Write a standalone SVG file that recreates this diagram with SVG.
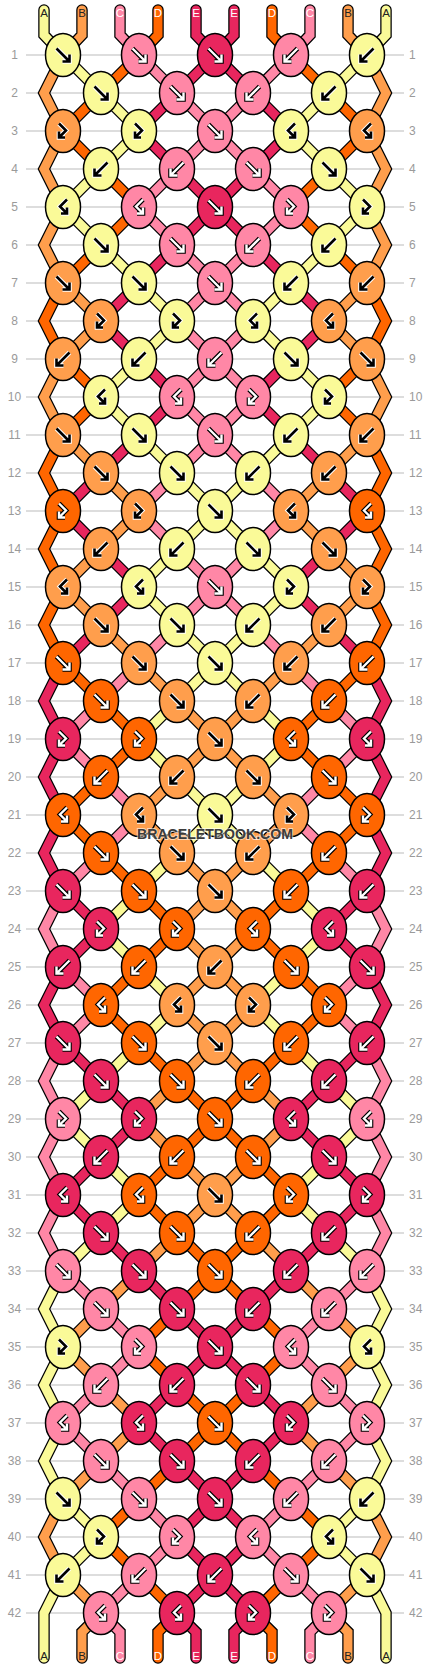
<svg xmlns="http://www.w3.org/2000/svg" width="430" height="1668" viewBox="0 0 430 1668">
<style>
.gl{stroke:#bcbcbc;stroke-width:1.2;fill:none}
.rn{font-family:"Liberation Sans",Arial,sans-serif;font-size:12px;fill:#9a9a9a}
.sl{font-family:"Liberation Sans",Arial,sans-serif;font-size:11.5px;text-anchor:middle}
.tw{fill:#fff}.tb{fill:#222}
.A{stroke:#FAFA98}.B{stroke:#FF9E4C}.C{stroke:#FF87A6}.D{stroke:#FF6600}.E{stroke:#E8265E}
.fA{fill:#FAFA98}.fB{fill:#FF9E4C}.fC{fill:#FF87A6}.fD{fill:#FF6600}.fE{fill:#E8265E}
.o0{stroke:#fff;stroke-width:4.6;fill:none}.i0{stroke:#000;stroke-width:2.6;fill:none}
.o1{stroke:#000;stroke-width:4.6;fill:none}.i1{stroke:#fff;stroke-width:2.4;fill:none}
.wm{font-family:"Liberation Sans",Arial,sans-serif;font-weight:bold;font-size:15px;fill:#3c3c3c;stroke:#fff;stroke-opacity:.6;stroke-width:2;paint-order:stroke;text-anchor:middle}
</style>
<defs>
<ellipse id="kn" rx="17.5" ry="21.5" stroke="#000" stroke-width="1.5"/>
<path id="pF" d="M-6.5-6.5L5.5 5.5M6.5-0.5V6.5H-0.5"/>
<path id="pB" d="M6.5-6.5L-5.5 5.5M-6.5-0.5V6.5H0.5"/>
<path id="pFB" d="M-4-7.5L3-0.5L-4 6.5M-4 0.5V6.5H2"/>
<path id="pBF" d="M4-7.5L-3-0.5L4 6.5M4 0.5V6.5H-2"/>
<g id="F0"><use href="#pF" class="o0"/><use href="#pF" class="i0"/></g>
<g id="F1"><use href="#pF" class="o1"/><use href="#pF" class="i1"/></g>
<g id="B0"><use href="#pB" class="o0"/><use href="#pB" class="i0"/></g>
<g id="B1"><use href="#pB" class="o1"/><use href="#pB" class="i1"/></g>
<g id="FB0"><use href="#pFB" class="o0"/><use href="#pFB" class="i0"/></g>
<g id="FB1"><use href="#pFB" class="o1"/><use href="#pFB" class="i1"/></g>
<g id="BF0"><use href="#pBF" class="o0"/><use href="#pBF" class="i0"/></g>
<g id="BF1"><use href="#pBF" class="o1"/><use href="#pBF" class="i1"/></g>
<path id="o1" d="M63 0l38 38M367 0l-38 38"/>
<path id="o2" d="M139 0l-38 38M291 0l38 38"/>
<path id="o3" d="M139 0l38 38M291 0l-38 38"/>
<path id="o4" d="M215 0l-38 38M215 0l38 38"/>
<path id="e1" d="M101 0l-38 38M329 0l38 38"/>
<path id="e2" d="M101 0l38 38M329 0l-38 38"/>
<path id="e3" d="M177 0l-38 38M253 0l38 38"/>
<path id="e4" d="M177 0l38 38M253 0l-38 38"/>
<path id="oa" d="M63 0l38 38M139 0l-38 38M139 0l38 38M215 0l-38 38M215 0l38 38M291 0l-38 38M291 0l38 38M367 0l-38 38"/>
<path id="ea" d="M101 0l-38 38M101 0l38 38M177 0l-38 38M177 0l38 38M253 0l-38 38M253 0l38 38M329 0l-38 38M329 0l38 38"/>
<path id="ed" d="M63 0l-19 38l19 38M367 0l19 38l-19 38"/>
</defs>
<rect width="430" height="1668" fill="#fff"/>
<g id="grid">
<path class="gl" d="M26 55H404M26 93H404M26 131H404M26 169H404M26 207H404M26 245H404M26 283H404M26 321H404M26 359H404M26 397H404M26 435H404M26 473H404M26 511H404M26 549H404M26 587H404M26 625H404M26 663H404M26 701H404M26 739H404M26 777H404M26 815H404M26 853H404M26 891H404M26 929H404M26 967H404M26 1005H404M26 1043H404M26 1081H404M26 1119H404M26 1157H404M26 1195H404M26 1233H404M26 1271H404M26 1309H404M26 1347H404M26 1385H404M26 1423H404M26 1461H404M26 1499H404M26 1537H404M26 1575H404M26 1613H404"/>
<g class="rn" text-anchor="middle">
<text x="14.5" y="59">1</text><text x="14.5" y="97">2</text><text x="14.5" y="135">3</text><text x="14.5" y="173">4</text><text x="14.5" y="211">5</text><text x="14.5" y="249">6</text><text x="14.5" y="287">7</text><text x="14.5" y="325">8</text><text x="14.5" y="363">9</text><text x="14.5" y="401">10</text><text x="14.5" y="439">11</text><text x="14.5" y="477">12</text><text x="14.5" y="515">13</text><text x="14.5" y="553">14</text><text x="14.5" y="591">15</text><text x="14.5" y="629">16</text><text x="14.5" y="667">17</text><text x="14.5" y="705">18</text><text x="14.5" y="743">19</text><text x="14.5" y="781">20</text><text x="14.5" y="819">21</text><text x="14.5" y="857">22</text><text x="14.5" y="895">23</text><text x="14.5" y="933">24</text><text x="14.5" y="971">25</text><text x="14.5" y="1009">26</text><text x="14.5" y="1047">27</text><text x="14.5" y="1085">28</text><text x="14.5" y="1123">29</text><text x="14.5" y="1161">30</text><text x="14.5" y="1199">31</text><text x="14.5" y="1237">32</text><text x="14.5" y="1275">33</text><text x="14.5" y="1313">34</text><text x="14.5" y="1351">35</text><text x="14.5" y="1389">36</text><text x="14.5" y="1427">37</text><text x="14.5" y="1465">38</text><text x="14.5" y="1503">39</text><text x="14.5" y="1541">40</text><text x="14.5" y="1579">41</text><text x="14.5" y="1617">42</text>
</g>
<g class="rn">
<text x="409" y="59">1</text><text x="409" y="97">2</text><text x="409" y="135">3</text><text x="409" y="173">4</text><text x="409" y="211">5</text><text x="409" y="249">6</text><text x="409" y="287">7</text><text x="409" y="325">8</text><text x="409" y="363">9</text><text x="409" y="401">10</text><text x="409" y="439">11</text><text x="409" y="477">12</text><text x="409" y="515">13</text><text x="409" y="553">14</text><text x="409" y="591">15</text><text x="409" y="629">16</text><text x="409" y="667">17</text><text x="409" y="705">18</text><text x="409" y="743">19</text><text x="409" y="781">20</text><text x="409" y="819">21</text><text x="409" y="857">22</text><text x="409" y="895">23</text><text x="409" y="933">24</text><text x="409" y="971">25</text><text x="409" y="1009">26</text><text x="409" y="1047">27</text><text x="409" y="1085">28</text><text x="409" y="1123">29</text><text x="409" y="1161">30</text><text x="409" y="1199">31</text><text x="409" y="1237">32</text><text x="409" y="1275">33</text><text x="409" y="1313">34</text><text x="409" y="1351">35</text><text x="409" y="1389">36</text><text x="409" y="1427">37</text><text x="409" y="1465">38</text><text x="409" y="1503">39</text><text x="409" y="1541">40</text><text x="409" y="1579">41</text><text x="409" y="1617">42</text>
</g>
</g>
<g id="connectors" fill="none">
<g stroke="#000" stroke-width="11.5">
<g stroke-linecap="round">
<path d="M44 10V35L63 55M82 10V35L63 55M120 10V35L139 55M158 10V35L139 55M196 10V35L215 55M234 10V35L215 55M272 10V35L291 55M310 10V35L291 55M348 10V35L367 55M386 10V35L367 55"/>
<path d="M63 1575L44 1613V1658M367 1575L386 1613V1658M101 1613L82 1632V1658M101 1613L120 1632V1658M177 1613L158 1632V1658M177 1613L196 1632V1658M253 1613L234 1632V1658M253 1613L272 1632V1658M329 1613L310 1632V1658M329 1613L348 1632V1658"/>
</g>
<use href="#oa" y="55"/><use href="#oa" y="131"/><use href="#oa" y="207"/><use href="#oa" y="283"/><use href="#oa" y="359"/><use href="#oa" y="435"/><use href="#oa" y="511"/><use href="#oa" y="587"/><use href="#oa" y="663"/><use href="#oa" y="739"/><use href="#oa" y="815"/><use href="#oa" y="891"/><use href="#oa" y="967"/><use href="#oa" y="1043"/><use href="#oa" y="1119"/><use href="#oa" y="1195"/><use href="#oa" y="1271"/><use href="#oa" y="1347"/><use href="#oa" y="1423"/><use href="#oa" y="1499"/><use href="#oa" y="1575"/>
<use href="#ea" y="93"/><use href="#ea" y="169"/><use href="#ea" y="245"/><use href="#ea" y="321"/><use href="#ea" y="397"/><use href="#ea" y="473"/><use href="#ea" y="549"/><use href="#ea" y="625"/><use href="#ea" y="701"/><use href="#ea" y="777"/><use href="#ea" y="853"/><use href="#ea" y="929"/><use href="#ea" y="1005"/><use href="#ea" y="1081"/><use href="#ea" y="1157"/><use href="#ea" y="1233"/><use href="#ea" y="1309"/><use href="#ea" y="1385"/><use href="#ea" y="1461"/><use href="#ea" y="1537"/>
<use href="#ed" y="55"/><use href="#ed" y="131"/><use href="#ed" y="207"/><use href="#ed" y="283"/><use href="#ed" y="359"/><use href="#ed" y="435"/><use href="#ed" y="511"/><use href="#ed" y="587"/><use href="#ed" y="663"/><use href="#ed" y="739"/><use href="#ed" y="815"/><use href="#ed" y="891"/><use href="#ed" y="967"/><use href="#ed" y="1043"/><use href="#ed" y="1119"/><use href="#ed" y="1195"/><use href="#ed" y="1271"/><use href="#ed" y="1347"/><use href="#ed" y="1423"/><use href="#ed" y="1499"/>
</g>
<g stroke-width="9">
<g stroke-linecap="round">
<path class="A" d="M44 10V35L63 55M386 10V35L367 55M63 1575L44 1613V1658M367 1575L386 1613V1658"/>
<path class="B" d="M82 10V35L63 55M348 10V35L367 55M101 1613L82 1632V1658M329 1613L348 1632V1658"/>
<path class="C" d="M120 10V35L139 55M310 10V35L291 55M101 1613L120 1632V1658M329 1613L310 1632V1658"/>
<path class="D" d="M158 10V35L139 55M272 10V35L291 55M177 1613L158 1632V1658M253 1613L272 1632V1658"/>
<path class="E" d="M196 10V35L215 55M234 10V35L215 55M177 1613L196 1632V1658M253 1613L234 1632V1658"/>
</g>
<use href="#ed" y="55" class="B"/><use href="#ed" y="131" class="B"/><use href="#ed" y="207" class="B"/><use href="#ed" y="283" class="D"/><use href="#ed" y="359" class="B"/><use href="#ed" y="435" class="D"/><use href="#ed" y="511" class="D"/><use href="#ed" y="587" class="D"/><use href="#ed" y="663" class="E"/><use href="#ed" y="739" class="E"/><use href="#ed" y="815" class="E"/><use href="#ed" y="891" class="C"/><use href="#ed" y="967" class="E"/><use href="#ed" y="1043" class="C"/><use href="#ed" y="1119" class="C"/><use href="#ed" y="1195" class="C"/><use href="#ed" y="1271" class="A"/><use href="#ed" y="1347" class="A"/><use href="#ed" y="1423" class="A"/><use href="#ed" y="1499" class="B"/>
<use href="#o1" y="55" class="A"/><use href="#o2" y="55" class="D"/><use href="#o3" y="55" class="C"/><use href="#o4" y="55" class="E"/>
<use href="#e1" y="93" class="D"/><use href="#e2" y="93" class="A"/><use href="#e3" y="93" class="E"/><use href="#e4" y="93" class="C"/>
<use href="#o1" y="131" class="D"/><use href="#o2" y="131" class="A"/><use href="#o3" y="131" class="E"/><use href="#o4" y="131" class="C"/>
<use href="#e1" y="169" class="A"/><use href="#e2" y="169" class="D"/><use href="#e3" y="169" class="C"/><use href="#e4" y="169" class="E"/>
<use href="#o1" y="207" class="A"/><use href="#o2" y="207" class="D"/><use href="#o3" y="207" class="C"/><use href="#o4" y="207" class="E"/>
<use href="#e1" y="245" class="D"/><use href="#e2" y="245" class="A"/><use href="#e3" y="245" class="E"/><use href="#e4" y="245" class="C"/>
<use href="#o1" y="283" class="B"/><use href="#o2" y="283" class="E"/><use href="#o3" y="283" class="A"/><use href="#o4" y="283" class="C"/>
<use href="#e1" y="321" class="B"/><use href="#e2" y="321" class="E"/><use href="#e3" y="321" class="A"/><use href="#e4" y="321" class="C"/>
<use href="#o1" y="359" class="D"/><use href="#o2" y="359" class="A"/><use href="#o3" y="359" class="E"/><use href="#o4" y="359" class="C"/>
<use href="#e1" y="397" class="D"/><use href="#e2" y="397" class="A"/><use href="#e3" y="397" class="E"/><use href="#e4" y="397" class="C"/>
<use href="#o1" y="435" class="B"/><use href="#o2" y="435" class="E"/><use href="#o3" y="435" class="A"/><use href="#o4" y="435" class="C"/>
<use href="#e1" y="473" class="E"/><use href="#e2" y="473" class="B"/><use href="#e3" y="473" class="C"/><use href="#e4" y="473" class="A"/>
<use href="#o1" y="511" class="E"/><use href="#o2" y="511" class="B"/><use href="#o3" y="511" class="C"/><use href="#o4" y="511" class="A"/>
<use href="#e1" y="549" class="B"/><use href="#e2" y="549" class="E"/><use href="#e3" y="549" class="A"/><use href="#e4" y="549" class="C"/>
<use href="#o1" y="587" class="B"/><use href="#o2" y="587" class="E"/><use href="#o3" y="587" class="A"/><use href="#o4" y="587" class="C"/>
<use href="#e1" y="625" class="E"/><use href="#e2" y="625" class="B"/><use href="#e3" y="625" class="C"/><use href="#e4" y="625" class="A"/>
<use href="#o1" y="663" class="D"/><use href="#o2" y="663" class="C"/><use href="#o3" y="663" class="B"/><use href="#o4" y="663" class="A"/>
<use href="#e1" y="701" class="C"/><use href="#e2" y="701" class="D"/><use href="#e3" y="701" class="A"/><use href="#e4" y="701" class="B"/>
<use href="#o1" y="739" class="C"/><use href="#o2" y="739" class="D"/><use href="#o3" y="739" class="A"/><use href="#o4" y="739" class="B"/>
<use href="#e1" y="777" class="D"/><use href="#e2" y="777" class="C"/><use href="#e3" y="777" class="B"/><use href="#e4" y="777" class="A"/>
<use href="#o1" y="815" class="D"/><use href="#o2" y="815" class="C"/><use href="#o3" y="815" class="B"/><use href="#o4" y="815" class="A"/>
<use href="#e1" y="853" class="C"/><use href="#e2" y="853" class="D"/><use href="#e3" y="853" class="A"/><use href="#e4" y="853" class="B"/>
<use href="#o1" y="891" class="E"/><use href="#o2" y="891" class="A"/><use href="#o3" y="891" class="D"/><use href="#o4" y="891" class="B"/>
<use href="#e1" y="929" class="E"/><use href="#e2" y="929" class="A"/><use href="#e3" y="929" class="D"/><use href="#e4" y="929" class="B"/>
<use href="#o1" y="967" class="C"/><use href="#o2" y="967" class="D"/><use href="#o3" y="967" class="A"/><use href="#o4" y="967" class="B"/>
<use href="#e1" y="1005" class="C"/><use href="#e2" y="1005" class="D"/><use href="#e3" y="1005" class="A"/><use href="#e4" y="1005" class="B"/>
<use href="#o1" y="1043" class="E"/><use href="#o2" y="1043" class="A"/><use href="#o3" y="1043" class="D"/><use href="#o4" y="1043" class="B"/>
<use href="#e1" y="1081" class="A"/><use href="#e2" y="1081" class="E"/><use href="#e3" y="1081" class="B"/><use href="#e4" y="1081" class="D"/>
<use href="#o1" y="1119" class="A"/><use href="#o2" y="1119" class="E"/><use href="#o3" y="1119" class="B"/><use href="#o4" y="1119" class="D"/>
<use href="#e1" y="1157" class="E"/><use href="#e2" y="1157" class="A"/><use href="#e3" y="1157" class="D"/><use href="#e4" y="1157" class="B"/>
<use href="#o1" y="1195" class="E"/><use href="#o2" y="1195" class="A"/><use href="#o3" y="1195" class="D"/><use href="#o4" y="1195" class="B"/>
<use href="#e1" y="1233" class="A"/><use href="#e2" y="1233" class="E"/><use href="#e3" y="1233" class="B"/><use href="#e4" y="1233" class="D"/>
<use href="#o1" y="1271" class="C"/><use href="#o2" y="1271" class="B"/><use href="#o3" y="1271" class="E"/><use href="#o4" y="1271" class="D"/>
<use href="#e1" y="1309" class="B"/><use href="#e2" y="1309" class="C"/><use href="#e3" y="1309" class="D"/><use href="#e4" y="1309" class="E"/>
<use href="#o1" y="1347" class="B"/><use href="#o2" y="1347" class="C"/><use href="#o3" y="1347" class="D"/><use href="#o4" y="1347" class="E"/>
<use href="#e1" y="1385" class="C"/><use href="#e2" y="1385" class="B"/><use href="#e3" y="1385" class="E"/><use href="#e4" y="1385" class="D"/>
<use href="#o1" y="1423" class="C"/><use href="#o2" y="1423" class="B"/><use href="#o3" y="1423" class="E"/><use href="#o4" y="1423" class="D"/>
<use href="#e1" y="1461" class="B"/><use href="#e2" y="1461" class="C"/><use href="#e3" y="1461" class="D"/><use href="#e4" y="1461" class="E"/>
<use href="#o1" y="1499" class="A"/><use href="#o2" y="1499" class="D"/><use href="#o3" y="1499" class="C"/><use href="#o4" y="1499" class="E"/>
<use href="#e1" y="1537" class="A"/><use href="#e2" y="1537" class="D"/><use href="#e3" y="1537" class="C"/><use href="#e4" y="1537" class="E"/>
<use href="#o1" y="1575" class="B"/><use href="#o2" y="1575" class="C"/><use href="#o3" y="1575" class="D"/><use href="#o4" y="1575" class="E"/>
</g>
</g>
<g id="knots">
<g id="r1k1" transform="translate(63 55)"><use href="#kn" class="fA"/><use href="#F0"/></g>
<g id="r1k2" transform="translate(139 55)"><use href="#kn" class="fC"/><use href="#F1"/></g>
<g id="r1k3" transform="translate(215 55)"><use href="#kn" class="fE"/><use href="#F1"/></g>
<g id="r1k4" transform="translate(291 55)"><use href="#kn" class="fC"/><use href="#B1"/></g>
<g id="r1k5" transform="translate(367 55)"><use href="#kn" class="fA"/><use href="#B0"/></g>
<g id="r2k1" transform="translate(101 93)"><use href="#kn" class="fA"/><use href="#F0"/></g>
<g id="r2k2" transform="translate(177 93)"><use href="#kn" class="fC"/><use href="#F1"/></g>
<g id="r2k3" transform="translate(253 93)"><use href="#kn" class="fC"/><use href="#B1"/></g>
<g id="r2k4" transform="translate(329 93)"><use href="#kn" class="fA"/><use href="#B0"/></g>
<g id="r3k1" transform="translate(63 131)"><use href="#kn" class="fB"/><use href="#FB0"/></g>
<g id="r3k2" transform="translate(139 131)"><use href="#kn" class="fA"/><use href="#FB0"/></g>
<g id="r3k3" transform="translate(215 131)"><use href="#kn" class="fC"/><use href="#F1"/></g>
<g id="r3k4" transform="translate(291 131)"><use href="#kn" class="fA"/><use href="#BF0"/></g>
<g id="r3k5" transform="translate(367 131)"><use href="#kn" class="fB"/><use href="#BF0"/></g>
<g id="r4k1" transform="translate(101 169)"><use href="#kn" class="fA"/><use href="#B0"/></g>
<g id="r4k2" transform="translate(177 169)"><use href="#kn" class="fC"/><use href="#B1"/></g>
<g id="r4k3" transform="translate(253 169)"><use href="#kn" class="fC"/><use href="#F1"/></g>
<g id="r4k4" transform="translate(329 169)"><use href="#kn" class="fA"/><use href="#F0"/></g>
<g id="r5k1" transform="translate(63 207)"><use href="#kn" class="fA"/><use href="#BF0"/></g>
<g id="r5k2" transform="translate(139 207)"><use href="#kn" class="fC"/><use href="#BF1"/></g>
<g id="r5k3" transform="translate(215 207)"><use href="#kn" class="fE"/><use href="#F1"/></g>
<g id="r5k4" transform="translate(291 207)"><use href="#kn" class="fC"/><use href="#FB1"/></g>
<g id="r5k5" transform="translate(367 207)"><use href="#kn" class="fA"/><use href="#FB0"/></g>
<g id="r6k1" transform="translate(101 245)"><use href="#kn" class="fA"/><use href="#F0"/></g>
<g id="r6k2" transform="translate(177 245)"><use href="#kn" class="fC"/><use href="#F1"/></g>
<g id="r6k3" transform="translate(253 245)"><use href="#kn" class="fC"/><use href="#B1"/></g>
<g id="r6k4" transform="translate(329 245)"><use href="#kn" class="fA"/><use href="#B0"/></g>
<g id="r7k1" transform="translate(63 283)"><use href="#kn" class="fB"/><use href="#F0"/></g>
<g id="r7k2" transform="translate(139 283)"><use href="#kn" class="fA"/><use href="#F0"/></g>
<g id="r7k3" transform="translate(215 283)"><use href="#kn" class="fC"/><use href="#F1"/></g>
<g id="r7k4" transform="translate(291 283)"><use href="#kn" class="fA"/><use href="#B0"/></g>
<g id="r7k5" transform="translate(367 283)"><use href="#kn" class="fB"/><use href="#B0"/></g>
<g id="r8k1" transform="translate(101 321)"><use href="#kn" class="fB"/><use href="#FB0"/></g>
<g id="r8k2" transform="translate(177 321)"><use href="#kn" class="fA"/><use href="#FB0"/></g>
<g id="r8k3" transform="translate(253 321)"><use href="#kn" class="fA"/><use href="#BF0"/></g>
<g id="r8k4" transform="translate(329 321)"><use href="#kn" class="fB"/><use href="#BF0"/></g>
<g id="r9k1" transform="translate(63 359)"><use href="#kn" class="fB"/><use href="#B0"/></g>
<g id="r9k2" transform="translate(139 359)"><use href="#kn" class="fA"/><use href="#B0"/></g>
<g id="r9k3" transform="translate(215 359)"><use href="#kn" class="fC"/><use href="#B1"/></g>
<g id="r9k4" transform="translate(291 359)"><use href="#kn" class="fA"/><use href="#F0"/></g>
<g id="r9k5" transform="translate(367 359)"><use href="#kn" class="fB"/><use href="#F0"/></g>
<g id="r10k1" transform="translate(101 397)"><use href="#kn" class="fA"/><use href="#BF0"/></g>
<g id="r10k2" transform="translate(177 397)"><use href="#kn" class="fC"/><use href="#BF1"/></g>
<g id="r10k3" transform="translate(253 397)"><use href="#kn" class="fC"/><use href="#FB1"/></g>
<g id="r10k4" transform="translate(329 397)"><use href="#kn" class="fA"/><use href="#FB0"/></g>
<g id="r11k1" transform="translate(63 435)"><use href="#kn" class="fB"/><use href="#F0"/></g>
<g id="r11k2" transform="translate(139 435)"><use href="#kn" class="fA"/><use href="#F0"/></g>
<g id="r11k3" transform="translate(215 435)"><use href="#kn" class="fC"/><use href="#F1"/></g>
<g id="r11k4" transform="translate(291 435)"><use href="#kn" class="fA"/><use href="#B0"/></g>
<g id="r11k5" transform="translate(367 435)"><use href="#kn" class="fB"/><use href="#B0"/></g>
<g id="r12k1" transform="translate(101 473)"><use href="#kn" class="fB"/><use href="#F0"/></g>
<g id="r12k2" transform="translate(177 473)"><use href="#kn" class="fA"/><use href="#F0"/></g>
<g id="r12k3" transform="translate(253 473)"><use href="#kn" class="fA"/><use href="#B0"/></g>
<g id="r12k4" transform="translate(329 473)"><use href="#kn" class="fB"/><use href="#B0"/></g>
<g id="r13k1" transform="translate(63 511)"><use href="#kn" class="fD"/><use href="#FB1"/></g>
<g id="r13k2" transform="translate(139 511)"><use href="#kn" class="fB"/><use href="#FB0"/></g>
<g id="r13k3" transform="translate(215 511)"><use href="#kn" class="fA"/><use href="#F0"/></g>
<g id="r13k4" transform="translate(291 511)"><use href="#kn" class="fB"/><use href="#BF0"/></g>
<g id="r13k5" transform="translate(367 511)"><use href="#kn" class="fD"/><use href="#BF1"/></g>
<g id="r14k1" transform="translate(101 549)"><use href="#kn" class="fB"/><use href="#B0"/></g>
<g id="r14k2" transform="translate(177 549)"><use href="#kn" class="fA"/><use href="#B0"/></g>
<g id="r14k3" transform="translate(253 549)"><use href="#kn" class="fA"/><use href="#F0"/></g>
<g id="r14k4" transform="translate(329 549)"><use href="#kn" class="fB"/><use href="#F0"/></g>
<g id="r15k1" transform="translate(63 587)"><use href="#kn" class="fB"/><use href="#BF0"/></g>
<g id="r15k2" transform="translate(139 587)"><use href="#kn" class="fA"/><use href="#BF0"/></g>
<g id="r15k3" transform="translate(215 587)"><use href="#kn" class="fC"/><use href="#F1"/></g>
<g id="r15k4" transform="translate(291 587)"><use href="#kn" class="fA"/><use href="#FB0"/></g>
<g id="r15k5" transform="translate(367 587)"><use href="#kn" class="fB"/><use href="#FB0"/></g>
<g id="r16k1" transform="translate(101 625)"><use href="#kn" class="fB"/><use href="#F0"/></g>
<g id="r16k2" transform="translate(177 625)"><use href="#kn" class="fA"/><use href="#F0"/></g>
<g id="r16k3" transform="translate(253 625)"><use href="#kn" class="fA"/><use href="#B0"/></g>
<g id="r16k4" transform="translate(329 625)"><use href="#kn" class="fB"/><use href="#B0"/></g>
<g id="r17k1" transform="translate(63 663)"><use href="#kn" class="fD"/><use href="#F1"/></g>
<g id="r17k2" transform="translate(139 663)"><use href="#kn" class="fB"/><use href="#F0"/></g>
<g id="r17k3" transform="translate(215 663)"><use href="#kn" class="fA"/><use href="#F0"/></g>
<g id="r17k4" transform="translate(291 663)"><use href="#kn" class="fB"/><use href="#B0"/></g>
<g id="r17k5" transform="translate(367 663)"><use href="#kn" class="fD"/><use href="#B1"/></g>
<g id="r18k1" transform="translate(101 701)"><use href="#kn" class="fD"/><use href="#F1"/></g>
<g id="r18k2" transform="translate(177 701)"><use href="#kn" class="fB"/><use href="#F0"/></g>
<g id="r18k3" transform="translate(253 701)"><use href="#kn" class="fB"/><use href="#B0"/></g>
<g id="r18k4" transform="translate(329 701)"><use href="#kn" class="fD"/><use href="#B1"/></g>
<g id="r19k1" transform="translate(63 739)"><use href="#kn" class="fE"/><use href="#FB1"/></g>
<g id="r19k2" transform="translate(139 739)"><use href="#kn" class="fD"/><use href="#FB1"/></g>
<g id="r19k3" transform="translate(215 739)"><use href="#kn" class="fB"/><use href="#F0"/></g>
<g id="r19k4" transform="translate(291 739)"><use href="#kn" class="fD"/><use href="#BF1"/></g>
<g id="r19k5" transform="translate(367 739)"><use href="#kn" class="fE"/><use href="#BF1"/></g>
<g id="r20k1" transform="translate(101 777)"><use href="#kn" class="fD"/><use href="#B1"/></g>
<g id="r20k2" transform="translate(177 777)"><use href="#kn" class="fB"/><use href="#B0"/></g>
<g id="r20k3" transform="translate(253 777)"><use href="#kn" class="fB"/><use href="#F0"/></g>
<g id="r20k4" transform="translate(329 777)"><use href="#kn" class="fD"/><use href="#F1"/></g>
<g id="r21k1" transform="translate(63 815)"><use href="#kn" class="fD"/><use href="#BF1"/></g>
<g id="r21k2" transform="translate(139 815)"><use href="#kn" class="fB"/><use href="#BF0"/></g>
<g id="r21k3" transform="translate(215 815)"><use href="#kn" class="fA"/><use href="#F0"/></g>
<g id="r21k4" transform="translate(291 815)"><use href="#kn" class="fB"/><use href="#FB0"/></g>
<g id="r21k5" transform="translate(367 815)"><use href="#kn" class="fD"/><use href="#FB1"/></g>
<g id="r22k1" transform="translate(101 853)"><use href="#kn" class="fD"/><use href="#F1"/></g>
<g id="r22k2" transform="translate(177 853)"><use href="#kn" class="fB"/><use href="#F0"/></g>
<g id="r22k3" transform="translate(253 853)"><use href="#kn" class="fB"/><use href="#B0"/></g>
<g id="r22k4" transform="translate(329 853)"><use href="#kn" class="fD"/><use href="#B1"/></g>
<g id="r23k1" transform="translate(63 891)"><use href="#kn" class="fE"/><use href="#F1"/></g>
<g id="r23k2" transform="translate(139 891)"><use href="#kn" class="fD"/><use href="#F1"/></g>
<g id="r23k3" transform="translate(215 891)"><use href="#kn" class="fB"/><use href="#F0"/></g>
<g id="r23k4" transform="translate(291 891)"><use href="#kn" class="fD"/><use href="#B1"/></g>
<g id="r23k5" transform="translate(367 891)"><use href="#kn" class="fE"/><use href="#B1"/></g>
<g id="r24k1" transform="translate(101 929)"><use href="#kn" class="fE"/><use href="#FB1"/></g>
<g id="r24k2" transform="translate(177 929)"><use href="#kn" class="fD"/><use href="#FB1"/></g>
<g id="r24k3" transform="translate(253 929)"><use href="#kn" class="fD"/><use href="#BF1"/></g>
<g id="r24k4" transform="translate(329 929)"><use href="#kn" class="fE"/><use href="#BF1"/></g>
<g id="r25k1" transform="translate(63 967)"><use href="#kn" class="fE"/><use href="#B1"/></g>
<g id="r25k2" transform="translate(139 967)"><use href="#kn" class="fD"/><use href="#B1"/></g>
<g id="r25k3" transform="translate(215 967)"><use href="#kn" class="fB"/><use href="#B0"/></g>
<g id="r25k4" transform="translate(291 967)"><use href="#kn" class="fD"/><use href="#F1"/></g>
<g id="r25k5" transform="translate(367 967)"><use href="#kn" class="fE"/><use href="#F1"/></g>
<g id="r26k1" transform="translate(101 1005)"><use href="#kn" class="fD"/><use href="#BF1"/></g>
<g id="r26k2" transform="translate(177 1005)"><use href="#kn" class="fB"/><use href="#BF0"/></g>
<g id="r26k3" transform="translate(253 1005)"><use href="#kn" class="fB"/><use href="#FB0"/></g>
<g id="r26k4" transform="translate(329 1005)"><use href="#kn" class="fD"/><use href="#FB1"/></g>
<g id="r27k1" transform="translate(63 1043)"><use href="#kn" class="fE"/><use href="#F1"/></g>
<g id="r27k2" transform="translate(139 1043)"><use href="#kn" class="fD"/><use href="#F1"/></g>
<g id="r27k3" transform="translate(215 1043)"><use href="#kn" class="fB"/><use href="#F0"/></g>
<g id="r27k4" transform="translate(291 1043)"><use href="#kn" class="fD"/><use href="#B1"/></g>
<g id="r27k5" transform="translate(367 1043)"><use href="#kn" class="fE"/><use href="#B1"/></g>
<g id="r28k1" transform="translate(101 1081)"><use href="#kn" class="fE"/><use href="#F1"/></g>
<g id="r28k2" transform="translate(177 1081)"><use href="#kn" class="fD"/><use href="#F1"/></g>
<g id="r28k3" transform="translate(253 1081)"><use href="#kn" class="fD"/><use href="#B1"/></g>
<g id="r28k4" transform="translate(329 1081)"><use href="#kn" class="fE"/><use href="#B1"/></g>
<g id="r29k1" transform="translate(63 1119)"><use href="#kn" class="fC"/><use href="#FB1"/></g>
<g id="r29k2" transform="translate(139 1119)"><use href="#kn" class="fE"/><use href="#FB1"/></g>
<g id="r29k3" transform="translate(215 1119)"><use href="#kn" class="fD"/><use href="#F1"/></g>
<g id="r29k4" transform="translate(291 1119)"><use href="#kn" class="fE"/><use href="#BF1"/></g>
<g id="r29k5" transform="translate(367 1119)"><use href="#kn" class="fC"/><use href="#BF1"/></g>
<g id="r30k1" transform="translate(101 1157)"><use href="#kn" class="fE"/><use href="#B1"/></g>
<g id="r30k2" transform="translate(177 1157)"><use href="#kn" class="fD"/><use href="#B1"/></g>
<g id="r30k3" transform="translate(253 1157)"><use href="#kn" class="fD"/><use href="#F1"/></g>
<g id="r30k4" transform="translate(329 1157)"><use href="#kn" class="fE"/><use href="#F1"/></g>
<g id="r31k1" transform="translate(63 1195)"><use href="#kn" class="fE"/><use href="#BF1"/></g>
<g id="r31k2" transform="translate(139 1195)"><use href="#kn" class="fD"/><use href="#BF1"/></g>
<g id="r31k3" transform="translate(215 1195)"><use href="#kn" class="fB"/><use href="#F0"/></g>
<g id="r31k4" transform="translate(291 1195)"><use href="#kn" class="fD"/><use href="#FB1"/></g>
<g id="r31k5" transform="translate(367 1195)"><use href="#kn" class="fE"/><use href="#FB1"/></g>
<g id="r32k1" transform="translate(101 1233)"><use href="#kn" class="fE"/><use href="#F1"/></g>
<g id="r32k2" transform="translate(177 1233)"><use href="#kn" class="fD"/><use href="#F1"/></g>
<g id="r32k3" transform="translate(253 1233)"><use href="#kn" class="fD"/><use href="#B1"/></g>
<g id="r32k4" transform="translate(329 1233)"><use href="#kn" class="fE"/><use href="#B1"/></g>
<g id="r33k1" transform="translate(63 1271)"><use href="#kn" class="fC"/><use href="#F1"/></g>
<g id="r33k2" transform="translate(139 1271)"><use href="#kn" class="fE"/><use href="#F1"/></g>
<g id="r33k3" transform="translate(215 1271)"><use href="#kn" class="fD"/><use href="#F1"/></g>
<g id="r33k4" transform="translate(291 1271)"><use href="#kn" class="fE"/><use href="#B1"/></g>
<g id="r33k5" transform="translate(367 1271)"><use href="#kn" class="fC"/><use href="#B1"/></g>
<g id="r34k1" transform="translate(101 1309)"><use href="#kn" class="fC"/><use href="#F1"/></g>
<g id="r34k2" transform="translate(177 1309)"><use href="#kn" class="fE"/><use href="#F1"/></g>
<g id="r34k3" transform="translate(253 1309)"><use href="#kn" class="fE"/><use href="#B1"/></g>
<g id="r34k4" transform="translate(329 1309)"><use href="#kn" class="fC"/><use href="#B1"/></g>
<g id="r35k1" transform="translate(63 1347)"><use href="#kn" class="fA"/><use href="#FB0"/></g>
<g id="r35k2" transform="translate(139 1347)"><use href="#kn" class="fC"/><use href="#FB1"/></g>
<g id="r35k3" transform="translate(215 1347)"><use href="#kn" class="fE"/><use href="#F1"/></g>
<g id="r35k4" transform="translate(291 1347)"><use href="#kn" class="fC"/><use href="#BF1"/></g>
<g id="r35k5" transform="translate(367 1347)"><use href="#kn" class="fA"/><use href="#BF0"/></g>
<g id="r36k1" transform="translate(101 1385)"><use href="#kn" class="fC"/><use href="#B1"/></g>
<g id="r36k2" transform="translate(177 1385)"><use href="#kn" class="fE"/><use href="#B1"/></g>
<g id="r36k3" transform="translate(253 1385)"><use href="#kn" class="fE"/><use href="#F1"/></g>
<g id="r36k4" transform="translate(329 1385)"><use href="#kn" class="fC"/><use href="#F1"/></g>
<g id="r37k1" transform="translate(63 1423)"><use href="#kn" class="fC"/><use href="#BF1"/></g>
<g id="r37k2" transform="translate(139 1423)"><use href="#kn" class="fE"/><use href="#BF1"/></g>
<g id="r37k3" transform="translate(215 1423)"><use href="#kn" class="fD"/><use href="#F1"/></g>
<g id="r37k4" transform="translate(291 1423)"><use href="#kn" class="fE"/><use href="#FB1"/></g>
<g id="r37k5" transform="translate(367 1423)"><use href="#kn" class="fC"/><use href="#FB1"/></g>
<g id="r38k1" transform="translate(101 1461)"><use href="#kn" class="fC"/><use href="#F1"/></g>
<g id="r38k2" transform="translate(177 1461)"><use href="#kn" class="fE"/><use href="#F1"/></g>
<g id="r38k3" transform="translate(253 1461)"><use href="#kn" class="fE"/><use href="#B1"/></g>
<g id="r38k4" transform="translate(329 1461)"><use href="#kn" class="fC"/><use href="#B1"/></g>
<g id="r39k1" transform="translate(63 1499)"><use href="#kn" class="fA"/><use href="#F0"/></g>
<g id="r39k2" transform="translate(139 1499)"><use href="#kn" class="fC"/><use href="#F1"/></g>
<g id="r39k3" transform="translate(215 1499)"><use href="#kn" class="fE"/><use href="#F1"/></g>
<g id="r39k4" transform="translate(291 1499)"><use href="#kn" class="fC"/><use href="#B1"/></g>
<g id="r39k5" transform="translate(367 1499)"><use href="#kn" class="fA"/><use href="#B0"/></g>
<g id="r40k1" transform="translate(101 1537)"><use href="#kn" class="fA"/><use href="#FB0"/></g>
<g id="r40k2" transform="translate(177 1537)"><use href="#kn" class="fC"/><use href="#FB1"/></g>
<g id="r40k3" transform="translate(253 1537)"><use href="#kn" class="fC"/><use href="#BF1"/></g>
<g id="r40k4" transform="translate(329 1537)"><use href="#kn" class="fA"/><use href="#BF0"/></g>
<g id="r41k1" transform="translate(63 1575)"><use href="#kn" class="fA"/><use href="#B0"/></g>
<g id="r41k2" transform="translate(139 1575)"><use href="#kn" class="fC"/><use href="#B1"/></g>
<g id="r41k3" transform="translate(215 1575)"><use href="#kn" class="fE"/><use href="#B1"/></g>
<g id="r41k4" transform="translate(291 1575)"><use href="#kn" class="fC"/><use href="#F1"/></g>
<g id="r41k5" transform="translate(367 1575)"><use href="#kn" class="fA"/><use href="#F0"/></g>
<g id="r42k1" transform="translate(101 1613)"><use href="#kn" class="fC"/><use href="#BF1"/></g>
<g id="r42k2" transform="translate(177 1613)"><use href="#kn" class="fE"/><use href="#BF1"/></g>
<g id="r42k3" transform="translate(253 1613)"><use href="#kn" class="fE"/><use href="#FB1"/></g>
<g id="r42k4" transform="translate(329 1613)"><use href="#kn" class="fC"/><use href="#FB1"/></g>
</g>
<g id="string-labels" class="sl">
<text x="44" y="17" class="tb">A</text><text x="82" y="17" class="tb">B</text><text x="120" y="17" class="tw">C</text><text x="158" y="17" class="tw">D</text><text x="196" y="17" class="tw">E</text><text x="234" y="17" class="tw">E</text><text x="272" y="17" class="tw">D</text><text x="310" y="17" class="tw">C</text><text x="348" y="17" class="tb">B</text><text x="386" y="17" class="tb">A</text>
<text x="44" y="1660" class="tb">A</text><text x="82" y="1660" class="tb">B</text><text x="120" y="1660" class="tw">C</text><text x="158" y="1660" class="tw">D</text><text x="196" y="1660" class="tw">E</text><text x="234" y="1660" class="tw">E</text><text x="272" y="1660" class="tw">D</text><text x="310" y="1660" class="tw">C</text><text x="348" y="1660" class="tb">B</text><text x="386" y="1660" class="tb">A</text>
</g>
<text id="watermark" class="wm" x="215" y="839" textLength="156" lengthAdjust="spacingAndGlyphs">BRACELETBOOK.COM</text>
</svg>
